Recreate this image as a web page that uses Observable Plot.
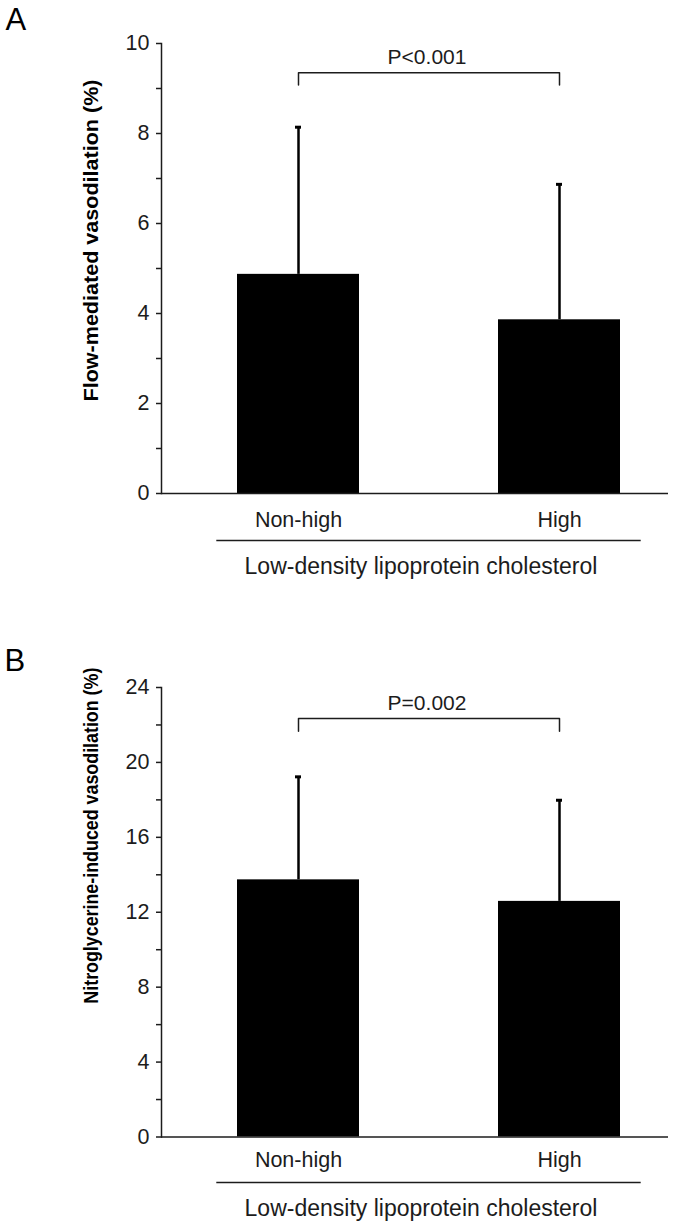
<!DOCTYPE html>
<html>
<head>
<meta charset="utf-8">
<script src="https://cdn.jsdelivr.net/npm/d3@7"></script>
<script src="https://cdn.jsdelivr.net/npm/@observablehq/plot@0.6"></script>
<style>
  html, body { margin: 0; padding: 0; background: white; }
  #chart svg { display: block; }
</style>
</head>
<body>
<div id="chart"></div>
<script>
// ---- Data ----
const categories = ["Non-high", "High"];
const groupTitle = "Low-density lipoprotein cholesterol";

// Panel A: flow-mediated vasodilation (%), mean and SD
const fmdMean = [4.87, 3.86];
const fmdSD = [3.27, 3.01];
const fmdTicks = [0, 1, 2, 3, 4, 5, 6, 7, 8, 9, 10];
const fmdLabels = [0, 2, 4, 6, 8, 10];
const fmdBracket = [9.08, 9.35]; // foot, top
const fmdP = "P<0.001";

// Panel B: nitroglycerine-induced vasodilation (%), mean and SD
const ngMean = [13.73, 12.58];
const ngSD = [5.50, 5.40];
const ngTicks = [0, 2, 4, 6, 8, 10, 12, 14, 16, 18, 20, 22, 24];
const ngLabels = [0, 4, 8, 12, 16, 20, 24];
const ngBracket = [21.66, 22.34];
const ngP = "P=0.002";

const font = "'Liberation Sans', Arial, Helvetica, sans-serif";
const ink = "#1c1c1c";

function panel(o) {
  const data = categories.map((c, i) => ({group: c, mean: o.means[i], top: o.means[i] + o.sds[i]}));
  const [foot, top] = o.bracket;
  const bracket = [
    {group: categories[0], y: foot},
    {group: categories[0], y: top},
    {group: categories[1], y: top},
    {group: categories[1], y: foot}
  ];
  const svg = Plot.plot({
    width: 675,
    height: o.height,
    marginLeft: 161,
    marginRight: 7,
    marginTop: o.marginTop,
    marginBottom: o.marginBottom,
    style: {fontFamily: font, color: ink, background: "white", overflow: "visible"},
    x: {domain: categories, paddingInner: 0.534, paddingOuter: 0.2377, align: 0.61},
    y: {domain: o.domain},
    marks: [
      Plot.barY(data, {x: "group", y: "mean", fill: "black"}),
      Plot.ruleX(data, {x: "group", y1: "mean", y2: "top", stroke: "black", strokeWidth: 2.5}),
      Plot.tickY(data, {x: "group", y: "top", stroke: "black", strokeWidth: 3, insetLeft: 58, insetRight: 58}),
      Plot.line(bracket, {x: "group", y: "y", stroke: ink, strokeWidth: 1.5}),
      Plot.text([{y: top, label: o.p}], {y: "y", text: "label", frameAnchor: "middle", dx: 12, dy: -15.5, fontSize: 21, lineAnchor: "middle"}),
      Plot.frame({anchor: "left", stroke: ink, strokeWidth: 1.5}),
      Plot.ruleY([0], {stroke: ink, strokeWidth: 1.5}),
      Plot.axisY({ticks: o.ticks, tickSize: 5, tickPadding: 7, fontSize: 21.5, label: null,
        stroke: ink, strokeWidth: 1.5,
        tickFormat: d => o.labels.includes(d) ? String(d) : ""}),
      Plot.axisX({tickSize: 0, tickPadding: o.labelPad, fontSize: 21.5, label: null}),
      Plot.ruleY([{a: categories[0], b: categories[1], y: 0}], {x1: "a", x2: "b", y: "y", dy: o.ulDy,
        insetLeft: -20.7, insetRight: -20.7, stroke: ink, strokeWidth: 1.5}),
      Plot.text([groupTitle], {frameAnchor: "bottom", dx: 6, dy: o.xTitleDy, fontSize: 23, lineAnchor: "middle"}),
      Plot.text([o.yTitle], {frameAnchor: "left", rotate: -90, dx: -70, dy: o.titleDy, fontSize: 21,
        fontWeight: "bold", textAnchor: "middle", lineAnchor: "middle", fill: "black"}),
      Plot.text([o.letter], {frameAnchor: "top-left", dx: o.letterDx, dy: o.letterDy, fontSize: 31,
        textAnchor: "start", lineAnchor: "top", fill: "black"})
    ]
  });
  // fit the rotated axis title to the length it has in the figure
  d3.select(svg).selectAll("text")
    .filter(function() { return this.textContent === o.yTitle; })
    .attr("textLength", o.titleLength)
    .attr("lengthAdjust", "spacingAndGlyphs");
  return svg;
}

const chart = document.getElementById("chart");
chart.append(panel({
  letter: "A", means: fmdMean, sds: fmdSD, domain: [0, 10], ticks: fmdTicks, labels: fmdLabels,
  bracket: fmdBracket, p: fmdP, yTitle: "Flow-mediated vasodilation (%)", titleLength: 322, titleDy: -28,
  height: 612, marginTop: 43, marginBottom: 119, labelPad: 18, ulDy: 47, xTitleDy: 73,
  letterDx: -156, letterDy: -36
}));
chart.append(panel({
  letter: "B", means: ngMean, sds: ngSD, domain: [0, 24], ticks: ngTicks, labels: ngLabels,
  bracket: ngBracket, p: ngP, yTitle: "Nitroglycerine-induced vasodilation (%)", titleLength: 336, titleDy: -76.6,
  height: 613, marginTop: 75, marginBottom: 88.5, labelPad: 15, ulDy: 45.5, xTitleDy: 71.2,
  letterDx: -157, letterDy: -39
}));
</script>
</body>
</html>
